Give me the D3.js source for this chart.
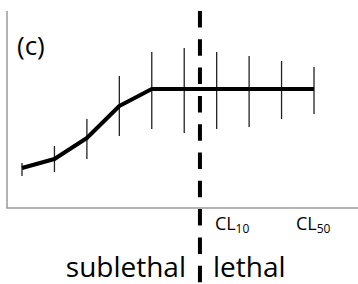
<!DOCTYPE html>
<html>
<head>
<meta charset="utf-8">
<script src="https://cdn.jsdelivr.net/npm/d3@7"></script>
<style>
  html, body { margin: 0; padding: 0; background: #fff; }
  svg { display: block; }
  svg text, svg tspan { font-family: "Open Sans", "Noto Sans", "DejaVu Sans", sans-serif; }
</style>
</head>
<body>
<svg id="chart" width="358" height="284"></svg>
<script>
// ---- data ----
const steps = [1, 2, 3, 4, 5, 6, 7, 8, 9, 10];
const response = [2.0, 2.45, 3.5, 5.1, 5.95, 5.95, 5.95, 5.95, 5.95, 5.95];
const errLow  = [1.6, 1.8, 2.45, 3.6, 3.95, 3.75, 3.95, 4.05, 4.45, 4.7];
const errHigh = [2.25, 3.1, 4.45, 6.6, 7.8, 8.0, 7.8, 7.6, 7.35, 7.05];
const tickNames = ["CL", "CL"];
const tickSubs = ["10", "50"];
const tickAt = [7.5, 10];
const thresholdAt = 6.5;
const panelLabel = "(c)";
const regionLabels = ["sublethal", "lethal"];

const svg = d3.select("#chart");
const W = 358, H = 284;

const x = d3.scaleLinear().domain([1, 10]).range([22, 314]);
const y = d3.scaleLinear().domain([0, 10]).range([208, 8]);

// axes (gray frame lines)
svg.append("line")
  .attr("x1", 7).attr("x2", 7).attr("y1", 11).attr("y2", y(0))
  .attr("stroke", "#9a9a9a").attr("stroke-width", 1.5);
svg.append("line")
  .attr("x1", 6.25).attr("x2", W).attr("y1", y(0)).attr("y2", y(0))
  .attr("stroke", "#9a9a9a").attr("stroke-width", 1.5);

// error bars
svg.append("g").selectAll("line")
  .data(steps)
  .join("line")
  .attr("x1", (d) => x(d)).attr("x2", (d) => x(d))
  .attr("y1", (d, i) => y(errHigh[i]))
  .attr("y2", (d, i) => y(errLow[i]))
  .attr("stroke", "#222").attr("stroke-width", 1.3);

// line
const line = d3.line()
  .x((d) => x(d))
  .y((d, i) => y(response[i]));
svg.append("path")
  .datum(steps)
  .attr("d", line)
  .attr("fill", "none")
  .attr("stroke", "#000")
  .attr("stroke-width", 4)
  .attr("stroke-linejoin", "round");

// threshold dashed line
svg.append("line")
  .attr("x1", x(thresholdAt) - 0.5).attr("x2", x(thresholdAt) - 0.5)
  .attr("y1", 11).attr("y2", H)
  .attr("stroke", "#000").attr("stroke-width", 4)
  .attr("stroke-dasharray", "16.5 11.8");

// tick labels CL10 / CL50
tickNames.forEach((n, i) => {
  const t = svg.append("text")
    .attr("x", x(tickAt[i]) - 18)
    .attr("y", 230)
    .style("font-size", "18px")
    .attr("fill", "#000");
  t.append("tspan").text(n);
  t.append("tspan").style("font-size", "12px").attr("dy", 3).text(tickSubs[i]);
});

// panel label
svg.append("text")
  .attr("x", 17).attr("y", 55)
  .style("font-size", "26px")
  .attr("fill", "#000")
  .text(panelLabel);

// region labels
svg.append("text")
  .attr("x", 186).attr("y", 277)
  .attr("text-anchor", "end")
  .style("font-size", "28px")
  .attr("fill", "#000")
  .text(regionLabels[0]);
svg.append("text")
  .attr("x", 213).attr("y", 277)
  .style("font-size", "28px")
  .attr("fill", "#000")
  .text(regionLabels[1]);
</script>
</body>
</html>
